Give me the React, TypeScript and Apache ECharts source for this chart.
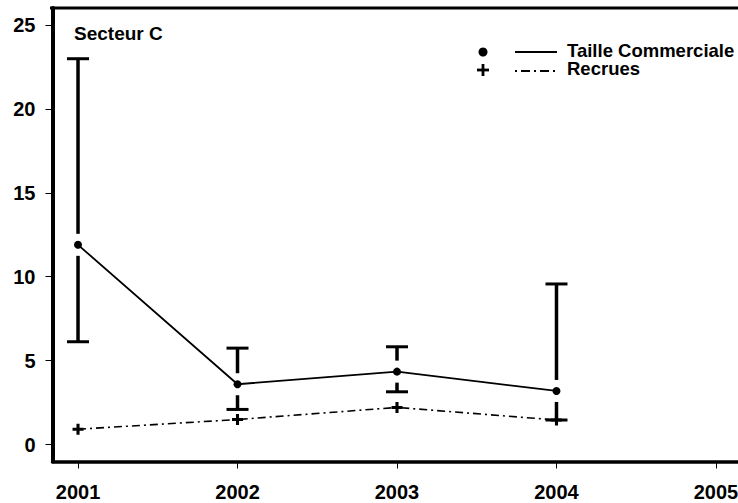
import React, { useEffect, useRef } from "react";
import * as echarts from "echarts";

const years = [2001, 2002, 2003, 2004];
const tailleCommerciale = [11.9, 3.6, 4.35, 3.2];
const recrues = [0.92, 1.5, 2.22, 1.47];
const errLower = [6.13, 2.1, 3.15, 1.47];
const errUpper = [22.98, 5.75, 5.83, 9.57];
const yTicks = [0, 5, 10, 15, 20, 25];
const xTicks = [2001, 2002, 2003, 2004, 2005];

const FONT = '"Liberation Sans", Arial, sans-serif';

export default function App() {
  const ref = useRef<HTMLDivElement>(null);
  useEffect(() => {
    if (!ref.current) return;
    const chart = echarts.init(ref.current, null, { renderer: "svg" });
    const plusPath = "path://M3.6,0H6.4V3.6H10V6.4H6.4V10H3.6V6.4H0V3.6H3.6Z";
    const errData = years.map((y, i) => [y, errLower[i], errUpper[i], tailleCommerciale[i]]);
    const GAP = 11;
    const CAP = 11;
    chart.setOption({
      animation: false,
      backgroundColor: "#fff",
      grid: {
        left: 52.5,
        top: 8,
        width: 689,
        bottom: 41.5,
        outerBoundsMode: "none",
        containLabel: false,
      },
      xAxis: {
        type: "value",
        min: 2000.84,
        max: 2005.16,
        splitLine: { show: false },
        axisLine: { show: true, onZero: false, lineStyle: { color: "#000", width: 3.5 } },
        axisTick: { show: true, length: 7, lineStyle: { color: "#000", width: 1 }, customValues: xTicks },
        axisLabel: {
          customValues: xTicks,
          color: "#000",
          fontFamily: FONT,
          fontWeight: "bold",
          fontSize: 20,
          margin: 20,
          formatter: (v: number) => String(Math.round(v)),
        },
      },
      yAxis: {
        type: "value",
        min: -1,
        max: 26,
        splitLine: { show: false },
        axisLine: { show: true, onZero: false, lineStyle: { color: "#000", width: 4 } },
        axisTick: { show: true, length: 7, lineStyle: { color: "#000", width: 1 }, customValues: yTicks },
        axisLabel: {
          customValues: yTicks,
          color: "#000",
          fontFamily: FONT,
          fontWeight: "bold",
          fontSize: 20,
          margin: 17,
        },
      },
      series: [
        {
          name: "Taille Commerciale",
          type: "line",
          data: years.map((y, i) => [y, tailleCommerciale[i]]),
          symbol: "circle",
          symbolSize: 8,
          itemStyle: { color: "#000" },
          lineStyle: { color: "#000", width: 1.8 },
          z: 3,
        },
        {
          name: "Recrues",
          type: "line",
          data: years.map((y, i) => [y, recrues[i]]),
          symbol: plusPath,
          symbolSize: 11,
          itemStyle: { color: "#000" },
          lineStyle: { color: "#000", width: 1.6, type: [8, 4, 2, 4] },
          z: 3,
        },
        {
          type: "custom",
          data: errData,
          z: 2,
          renderItem: (params: any, api: any) => {
            const x = api.value(0);
            const lo = api.coord([x, api.value(1)]);
            const hi = api.coord([x, api.value(2)]);
            const m = api.coord([x, api.value(3)]);
            const style = { stroke: "#000", lineWidth: 3.5 };
            const children: any[] = [];
            if (m[1] - GAP > hi[1]) {
              children.push({ type: "line", shape: { x1: hi[0], y1: hi[1], x2: m[0], y2: m[1] - GAP }, style });
            }
            if (m[1] + GAP < lo[1]) {
              children.push({ type: "line", shape: { x1: lo[0], y1: lo[1], x2: m[0], y2: m[1] + GAP }, style });
            }
            children.push({ type: "line", shape: { x1: hi[0] - CAP, y1: hi[1], x2: hi[0] + CAP, y2: hi[1] }, style: { stroke: "#000", lineWidth: 3 } });
            children.push({ type: "line", shape: { x1: lo[0] - CAP, y1: lo[1], x2: lo[0] + CAP, y2: lo[1] }, style: { stroke: "#000", lineWidth: 3 } });
            return { type: "group", children };
          },
        },
      ],
      graphic: [
        { type: "line", shape: { x1: 50, y1: 8, x2: 738, y2: 8 }, style: { stroke: "#000", lineWidth: 3 } },
        {
          type: "text",
          x: 74,
          y: 33,
          style: { text: "Secteur C", font: `bold 19px ${FONT}`, fill: "#000", verticalAlign: "middle" },
        },
        { type: "circle", shape: { cx: 483, cy: 52, r: 4.5 }, style: { fill: "#000" } },
        { type: "line", shape: { x1: 515, y1: 52, x2: 557, y2: 52 }, style: { stroke: "#000", lineWidth: 2 } },
        {
          type: "text",
          x: 567,
          y: 50.5,
          style: { text: "Taille Commerciale", font: `bold 18.5px ${FONT}`, fill: "#000", verticalAlign: "middle" },
        },
        { type: "line", shape: { x1: 477, y1: 70, x2: 489, y2: 70 }, style: { stroke: "#000", lineWidth: 2.8 } },
        { type: "line", shape: { x1: 483, y1: 64, x2: 483, y2: 76 }, style: { stroke: "#000", lineWidth: 2.8 } },
        { type: "line", shape: { x1: 515, y1: 71, x2: 557, y2: 71 }, style: { stroke: "#000", lineWidth: 2, lineDash: [2, 4, 9, 4] } },
        {
          type: "text",
          x: 567,
          y: 68,
          style: { text: "Recrues", font: `bold 18.5px ${FONT}`, fill: "#000", verticalAlign: "middle" },
        },
      ],
    });
    return () => chart.dispose();
  }, []);
  return (
    <div style={{ position: "fixed", left: 0, top: 0, width: 738, height: 503, overflow: "hidden", background: "#fff" }}>
      <div ref={ref} style={{ width: 738, height: 503 }} />
    </div>
  );
}
